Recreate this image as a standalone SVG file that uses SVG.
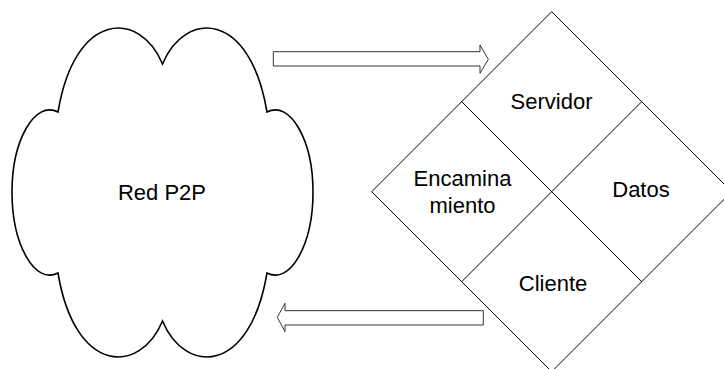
<svg xmlns="http://www.w3.org/2000/svg" width="724" height="369" viewBox="0 0 724 369">
<style>
.lbl{font-family:"Liberation Sans",Arial,sans-serif;font-size:22px;fill:#000;text-anchor:middle}
.cloud{fill:#fff;stroke:#000;stroke-width:1.6}
.dia{fill:none;stroke:#000;stroke-width:1}
.arrow{fill:#fff;stroke:#333;stroke-width:1}
</style>
<rect width="724" height="369" fill="#fff"/>
<g id="red-p2p">
<path class="cloud" d="M162.5,64 C185,10 250,10 267,112 C290,100 313,140 313,192 C313,245 290,285 267,273 C250,375 185,375 162.5,321 C140,375 75,375 58,273 C35,285 12,245 12,192 C12,140 35,100 58,112 C75,10 140,10 162.5,64 Z"/>
<text class="lbl" x="162" y="200">Red P2P</text>
</g>
<g id="nodo">
<path class="dia" d="M551.7,11.7 L731.7,191.7 L551.7,371.7 L371.7,191.7 Z"/>
<line class="dia" x1="461.7" y1="101.7" x2="641.7" y2="281.7"/>
<line class="dia" x1="641.7" y1="101.7" x2="461.7" y2="281.7"/>
<g id="servidor"><text class="lbl" x="551.5" y="109">Servidor</text></g>
<g id="encaminamiento"><text class="lbl" x="462.5" y="186">Encamina</text><text class="lbl" x="462.5" y="213">miento</text></g>
<g id="datos"><text class="lbl" x="641" y="197">Datos</text></g>
<g id="cliente"><text class="lbl" x="553" y="291">Cliente</text></g>
</g>
<g id="connectors">
<path class="arrow" d="M273.3,51.7 L480,51.7 L480,45 L488.3,59.3 L480,73.3 L480,66 L273.3,66 Z"/>
<path class="arrow" d="M483.3,310.7 L285,310.7 L285,303.3 L277.3,317.3 L285,331.7 L285,325 L483.3,325 Z"/>
</g>
</svg>
